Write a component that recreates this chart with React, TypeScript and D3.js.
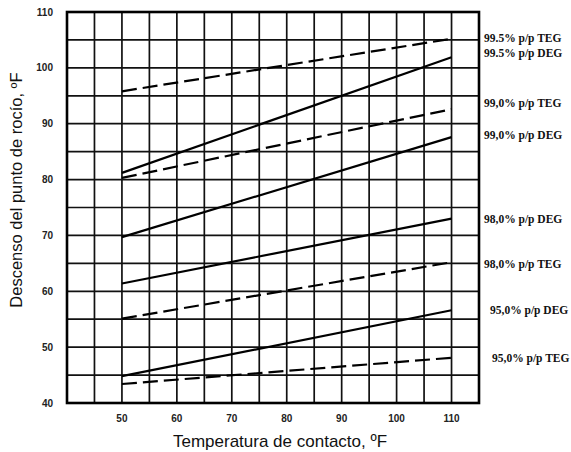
import React from "react";
import * as d3 from "d3";

// Dew point depression vs contact temperature for glycol concentrations
const seriesNames = [
  "99.5% p/p TEG",
  "99.5% p/p DEG",
  "99,0% p/p TEG",
  "99,0% p/p DEG",
  "98,0% p/p DEG",
  "98,0% p/p TEG",
  "95,0% p/p DEG",
  "95,0% p/p TEG",
];
const contactTemps = [50, 110];
const depressionAt50 = [95.8, 81.2, 80.3, 69.7, 61.4, 55.1, 44.8, 43.4];
const depressionAt110 = [105.2, 101.9, 92.6, 87.6, 73.0, 65.2, 56.6, 48.1];
const dashedSeries = [true, false, true, false, false, true, false, true];
const labelY = [105.4, 102.7, 93.7, 88.0, 73.0, 64.9, 56.6, 48.1];
const labelDx = [0, 0, 0, 0, 0, 0, 6, 8];

const xTicks = [50, 60, 70, 80, 90, 100, 110];
const yTicks = [40, 50, 60, 70, 80, 90, 100, 110];

export default function App() {
  const W = 571;
  const H = 452;
  const left = 67;
  const right = 479;
  const top = 12;
  const bottom = 403;

  const x = d3.scaleLinear().domain([40, 115]).range([left, right]);
  const y = d3.scaleLinear().domain([40, 110]).range([bottom, top]);

  const xGrid = d3.range(45, 115, 5);
  const yGrid = d3.range(45, 110, 5);

  const line = d3
    .line<[number, number]>()
    .x((d) => x(d[0]))
    .y((d) => y(d[1]));

  return (
    <svg
      width={W}
      height={H}
      style={{ position: "absolute", left: 0, top: 0, background: "#fff" }}
    >
      <rect x={0} y={0} width={W} height={H} fill="#fff" />
      {/* grid */}
      {xGrid.map((v) => (
        <line
          key={"gx" + v}
          x1={x(v)}
          x2={x(v)}
          y1={top}
          y2={bottom}
          stroke="#111"
          strokeWidth={1.7}
        />
      ))}
      {yGrid.map((v) => (
        <line
          key={"gy" + v}
          x1={left}
          x2={right}
          y1={y(v)}
          y2={y(v)}
          stroke="#111"
          strokeWidth={1.7}
        />
      ))}
      <rect
        x={left}
        y={top}
        width={right - left}
        height={bottom - top}
        fill="none"
        stroke="#000"
        strokeWidth={2.6}
      />

      {/* series */}
      {seriesNames.map((name, i) => (
        <path
          key={name}
          d={
            line([
              [contactTemps[0], depressionAt50[i]],
              [contactTemps[1], depressionAt110[i]],
            ]) || ""
          }
          fill="none"
          stroke="#000"
          strokeWidth={2.2}
          strokeDasharray={dashedSeries[i] ? "15 6" : undefined}
        />
      ))}

      {/* series labels */}
      {seriesNames.map((name, i) => (
        <text
          key={"l" + name}
          x={484 + labelDx[i]}
          y={y(labelY[i])}
          dy="0.35em"
          fontFamily="'Liberation Serif', 'DejaVu Serif', serif"
          fontWeight="bold"
          fontSize={11.5}
          fill="#111"
        >
          {name}
        </text>
      ))}

      {/* y tick labels */}
      {yTicks.map((v) => (
        <text
          key={"yt" + v}
          x={53}
          y={y(v)}
          dy="0.35em"
          textAnchor="end"
          fontFamily="'Liberation Sans', Arial, sans-serif"
          fontWeight="bold"
          fontSize={10}
          fill="#222"
        >
          {v}
        </text>
      ))}

      {/* x tick labels */}
      {xTicks.map((v) => (
        <text
          key={"xt" + v}
          x={x(v)}
          y={418}
          dy="0.35em"
          textAnchor="middle"
          fontFamily="'Liberation Sans', Arial, sans-serif"
          fontWeight="bold"
          fontSize={10}
          fill="#222"
        >
          {v}
        </text>
      ))}

      {/* axis titles */}
      <text
        x={280}
        y={441}
        dy="0.35em"
        textAnchor="middle"
        fontFamily="'Liberation Sans', Arial, sans-serif"
        fontSize={17}
        fill="#111"
      >
        Temperatura de contacto, ºF
      </text>
      <text
        transform="translate(16,190) rotate(-90)"
        dy="0.35em"
        textAnchor="middle"
        fontFamily="'Liberation Sans', Arial, sans-serif"
        fontSize={16.5}
        fill="#111"
      >
        Descenso del punto de rocío, ºF
      </text>
    </svg>
  );
}
